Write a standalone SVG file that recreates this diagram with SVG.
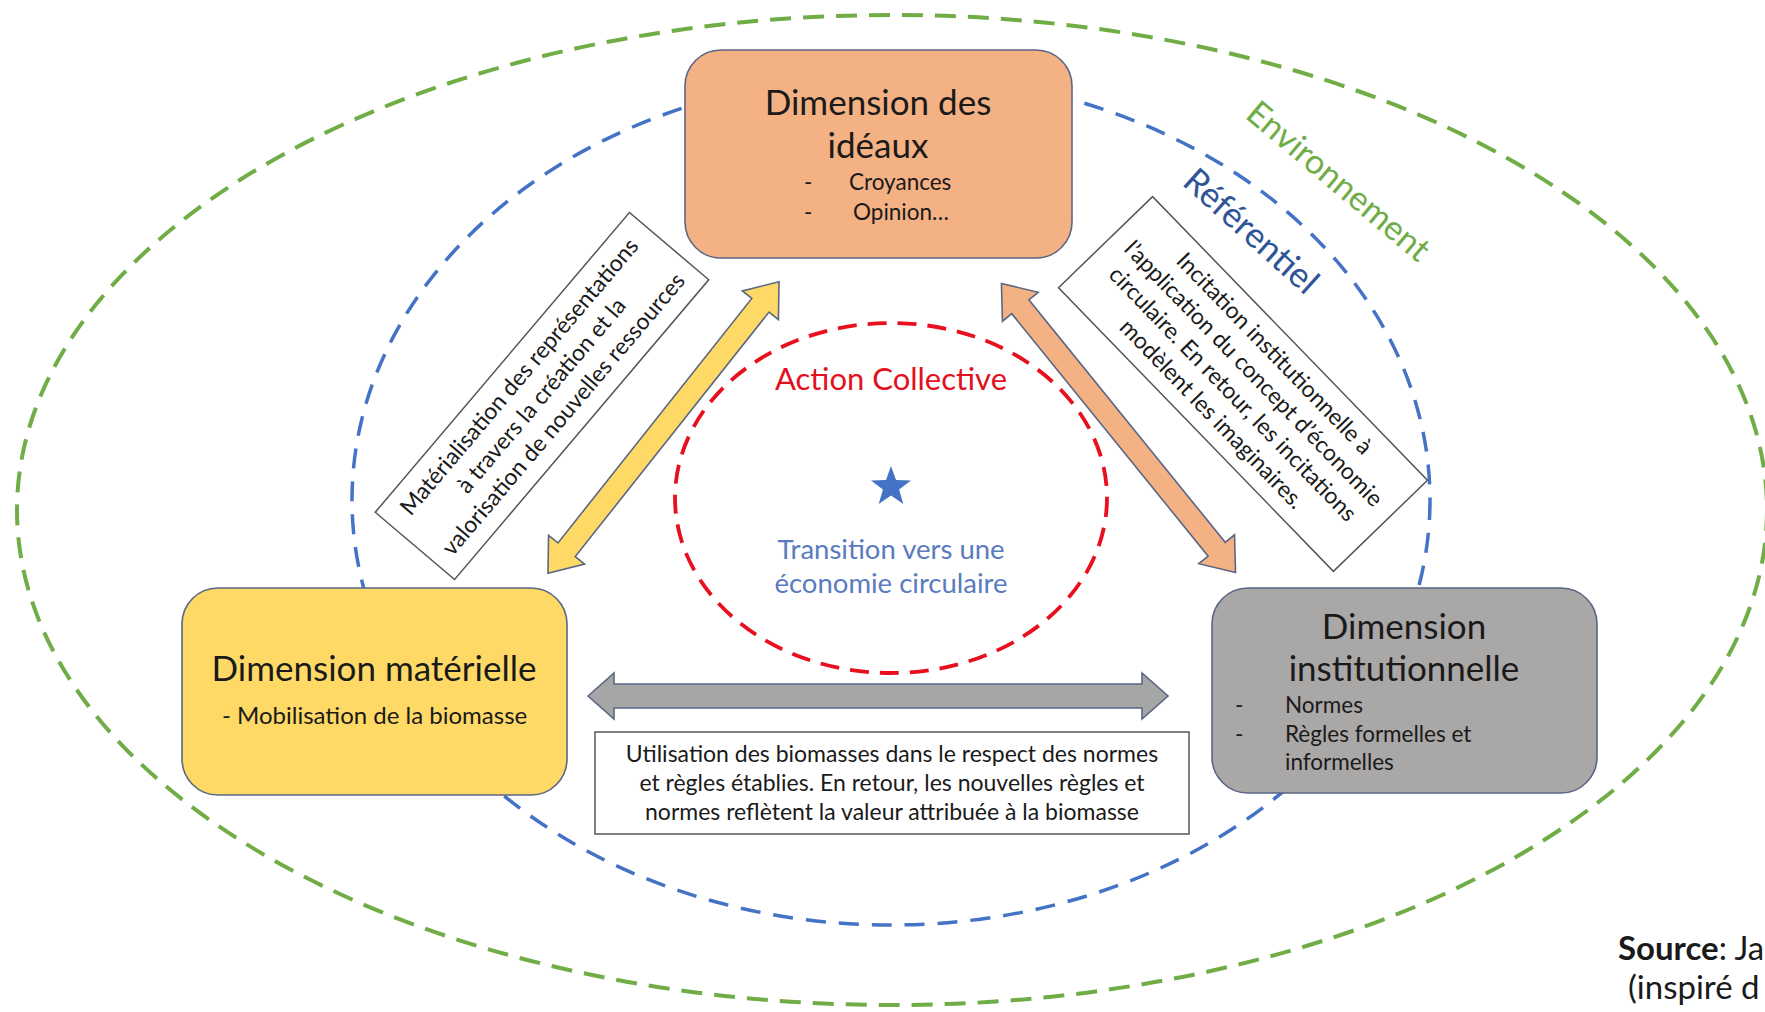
<svg xmlns="http://www.w3.org/2000/svg" width="1765" height="1012" viewBox="0 0 1765 1012">
<style>
text{font-family:Lato,"Open Sans","Liberation Sans",sans-serif;fill:#1a1a1a}
.title{font-size:35px;text-anchor:middle}
.item{font-size:22.5px}
.note{font-size:23px;text-anchor:middle}
.box{stroke:#5a6685;stroke-width:1.6}
.frame{fill:#ffffff;stroke:#555555;stroke-width:1.5}
.arrow{stroke:#5a6685;stroke-width:1.6;stroke-linejoin:miter}
</style>
<defs>
<polygon id="dblarrow" points="-186,0 -156,-23 -156,-11 156,-11 156,-23 186,0 156,23 156,11 -156,11 -156,23"/>
</defs>
<rect width="1765" height="1012" fill="#ffffff"/>
<g id="environnement">
<ellipse cx="892" cy="510" rx="875" ry="495" fill="none" stroke="#70AD47" stroke-width="4" stroke-dasharray="21 12"/>
<text x="1244" y="117" transform="rotate(40 1244 117)" style="font-size:34px;fill:#70AD47">Environnement</text>
</g>
<g id="referentiel">
<ellipse cx="891" cy="500" rx="539" ry="425" fill="none" stroke="#4472C4" stroke-width="3.5" stroke-dasharray="20 13"/>
<text x="1181" y="184" transform="rotate(42 1181 184)" style="font-size:35px;fill:#2F5597">Référentiel</text>
</g>
<g id="action-collective">
<ellipse cx="891" cy="498" rx="216" ry="175" fill="none" stroke="#E8101E" stroke-width="3.8" stroke-dasharray="19 11"/>
<text x="891" y="390" style="font-size:31px;fill:#E3101E;text-anchor:middle">Action Collective</text>
<polygon points="891,466 896,480.1 911,480.5 899.1,489.6 903.3,504 891,495.5 878.7,504 882.9,489.6 871,480.5 886,480.1" fill="#4472C4"/>
<text x="891" y="559" style="font-size:27.5px;fill:#5B7BBF;text-anchor:middle">Transition vers une</text>
<text x="891" y="593" style="font-size:27.5px;fill:#5B7BBF;text-anchor:middle">économie circulaire</text>
</g>
<g id="connectors">
<use href="#dblarrow" class="arrow" fill="#FFD966" transform="translate(663.5 427.5) rotate(-51.6)"/>
<use href="#dblarrow" class="arrow" fill="#F4B183" transform="translate(1118.5 428) rotate(51)"/>
<polygon class="arrow" fill="#A6A6A6" points="588,696 614,673 614,684 1142,684 1142,673 1168,696 1142,719 1142,708 614,708 614,719"/>
</g>
<g id="label-materialisation" transform="translate(542 396) rotate(-49.7)">
<rect x="-196.5" y="-52" width="393" height="104" class="frame"/>
<text class="note" x="0" y="-22">Matérialisation des représentations</text>
<text class="note" x="0" y="7">à travers la création et la</text>
<text class="note" x="0" y="36">valorisation de nouvelles ressources</text>
</g>
<g id="label-incitation" transform="translate(1243 384) rotate(45.9)">
<rect x="-197.5" y="-65.5" width="395" height="131" class="frame"/>
<text class="note" x="0" y="-36">Incitation institutionnelle à</text>
<text class="note" x="0" y="-7">l’application du concept d’économie</text>
<text class="note" x="0" y="22">circulaire. En retour, les incitations</text>
<text class="note" x="0" y="51">modèlent les imaginaires.</text>
</g>
<g id="label-utilisation">
<rect x="595" y="732" width="594" height="102" class="frame"/>
<text class="note" x="892" y="762">Utilisation des biomasses dans le respect des normes</text>
<text class="note" x="892" y="791">et règles établies. En retour, les nouvelles règles et</text>
<text class="note" x="892" y="820">normes reflètent la valeur attribuée à la biomasse</text>
</g>
<g id="dimension-ideaux">
<rect x="685" y="50" width="387" height="208" rx="36" fill="#F4B183" class="box"/>
<text class="title" x="878" y="115">Dimension des</text>
<text class="title" x="878" y="158">idéaux</text>
<text class="item" x="804" y="190">-</text>
<text class="item" x="849" y="190">Croyances</text>
<text class="item" x="804" y="220">-</text>
<text class="item" x="853" y="220">Opinion…</text>
</g>
<g id="dimension-materielle">
<rect x="182" y="588" width="385" height="207" rx="36" fill="#FFD966" class="box"/>
<text class="title" x="374" y="681">Dimension matérielle</text>
<text class="item" x="222" y="724" style="font-size:24px">- Mobilisation de la biomasse</text>
</g>
<g id="dimension-institutionnelle">
<rect x="1212" y="588" width="385" height="205" rx="36" fill="#AAA7A7" class="box"/>
<text class="title" x="1404" y="639">Dimension</text>
<text class="title" x="1404" y="681">institutionnelle</text>
<text class="item" x="1235" y="713">-</text>
<text class="item" x="1285" y="713">Normes</text>
<text class="item" x="1235" y="742">-</text>
<text class="item" x="1285" y="742">Règles formelles et</text>
<text class="item" x="1285" y="770">informelles</text>
</g>
<g id="source">
<text x="1618" y="960" style="font-size:33px"><tspan font-weight="bold">Source</tspan>: Ja</text>
<text x="1628" y="999" style="font-size:33px">(inspiré d</text>
</g>
</svg>
